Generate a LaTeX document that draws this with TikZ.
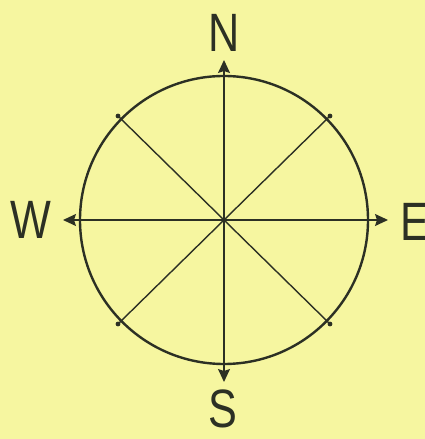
\documentclass[tikz,border=0pt]{standalone}
\usepackage{fontspec}
\setmainfont{Liberation Sans}
\usetikzlibrary{arrows.meta}
\definecolor{paper}{RGB}{246,246,160}
\definecolor{ink}{RGB}{44,48,36}
\begin{document}
\begin{tikzpicture}[x=1pt, y=1pt,
  every node/.style={inner sep=0pt, text=ink, font=\fontsize{54}{54}\selectfont},
  letter/.style={xscale=0.8},
  spoke/.style={draw=ink, line width=1.4pt},
  >={Stealth[length=13pt, width=12pt, inset=2pt]}]
  \useasboundingbox (0,0) rectangle (425,439);
  \clip (0,0) rectangle (425,439);
  \fill[paper] (0,0) rectangle (425,439);
  % rose
  \coordinate (c) at (224,219);
  \draw[ink, line width=2.4pt] (c) circle (144);
  \coordinate (tn) at (224,379);
  \coordinate (ts) at (224,57);
  \coordinate (tw) at (63,219);
  \coordinate (te) at (388,219);
  \draw[spoke, <->] (tn) -- (ts);
  \draw[spoke, <->] (tw) -- (te);
  \coordinate (nw) at (118,323);
  \coordinate (se) at (330,115);
  \coordinate (ne) at (330,323);
  \coordinate (sw) at (118,115);
  \draw[spoke] (nw) -- (se);
  \draw[spoke] (ne) -- (sw);
  \foreach \p in {nw,ne,sw,se} \fill[ink] (\p) circle (2.4);
  % letters
  \node[letter] (n) at (224,406) {N};
  \node[letter] (s) at (223,30) {S};
  \node[letter] (w) at (31,219) {W};
  \node[letter, anchor=west] (e) at (400,217) {E};
\end{tikzpicture}
\end{document}
